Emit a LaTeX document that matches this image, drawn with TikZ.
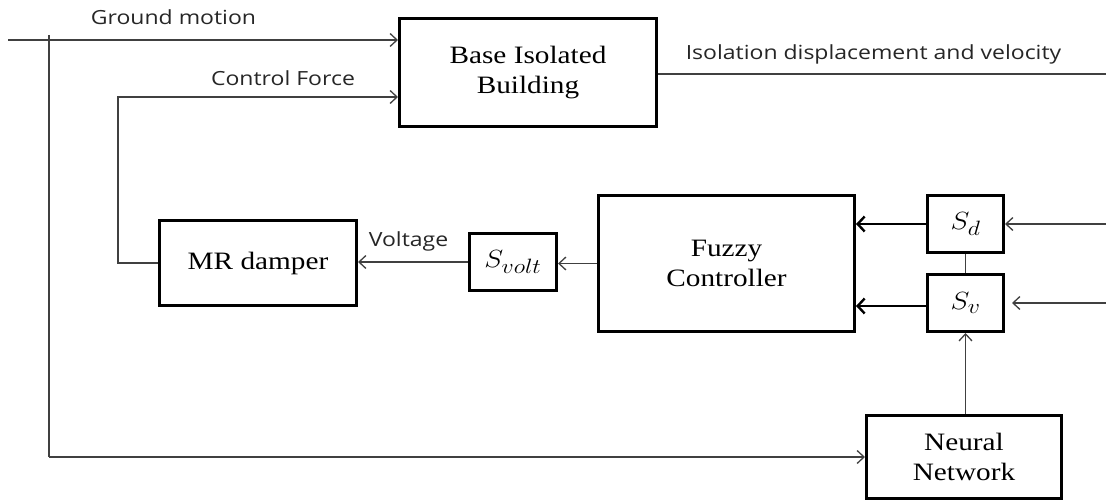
\documentclass[tikz,border=0pt]{standalone}
\usepackage{fontspec}
\setmainfont{Liberation Serif}
\newfontfamily\boxfont[FakeStretch=1.17]{Liberation Serif}
\newfontfamily\lblfont[FakeStretch=1.18]{Open Sans}
\usetikzlibrary{arrows.meta}
\newcommand{\wmath}[1]{\scalebox{1.15}[1]{$#1$}}
\tikzset{
  blk/.style={draw=black, line width=3pt, inner sep=0pt, align=center, font=\boxfont\fontsize{25}{30}\selectfont},
  mblk/.style={blk, font=\fontsize{28}{30}\selectfont},
  conn/.style={draw=black!75, line width=1.3pt},
  arr/.style={conn, -{Straight Barb[length=7pt,width=13pt,line width=1.3pt]}},
  tarr/.style={draw=black, line width=2.4pt, -{Straight Barb[length=7pt,width=15pt,line width=2.4pt]}},
  lbl/.style={font=\lblfont\fontsize{19.5}{22}\selectfont, text=black!85, inner sep=0pt}
}
\begin{document}
\begin{tikzpicture}[x=1pt,y=-1pt]
\useasboundingbox (0,0) rectangle (1106,502);
% blocks
\node[blk, minimum width=257pt, minimum height=108pt] (base) at (528,72.5) {Base Isolated\\Building};
\node[blk, minimum width=197pt, minimum height=85pt] (mr) at (258,263) {MR damper};
\node[mblk, minimum width=87pt, minimum height=57pt] (sv0) at (513,262) {\wmath{S_{volt}}};
\node[blk, minimum width=256pt, minimum height=136pt] (fz) at (726.5,263.5) {Fuzzy\\Controller};
\node[mblk, minimum width=76pt, minimum height=57pt] (sd) at (965.5,224) {\wmath{S_d}};
\node[mblk, minimum width=76pt, minimum height=57pt] (sv) at (965.5,303) {\wmath{S_v}};
\node[blk, minimum width=195pt, minimum height=83pt] (nn) at (964,457) {Neural\\Network};
% free ends
\coordinate (gm0) at (8,40);
\coordinate (gv0) at (49,35);
\coordinate (cf0) at (118,97);
\coordinate (out1) at (1106,74);
\coordinate (ind) at (1106,224);
\coordinate (inv) at (1106,303);
% connectors
\draw[arr] (gm0) -- (gm0 -| base.west);
\draw[conn] (gv0) -- (gv0 |- nn.west);
\draw[arr] (gv0 |- nn.west) -- (nn.west);
\draw[arr] (mr.west) -| (cf0) -- (cf0 -| base.west);
\draw[conn] (out1 -| base.east) -- (out1);
\draw[arr] (fz.west) -- (fz.west -| sv0.east);
\draw[arr] (sv0.west) -- (sv0.west -| mr.east);
\draw[tarr] (sd.west) -- (sd.west -| fz.east);
\draw[tarr] ([yshift=-3pt]sv.west) -- ([yshift=-3pt]sv.west -| fz.east);
\draw[arr] (ind) -- (sd.east);
\draw[arr, shorten >=7pt] (inv) -- (sv.east);
\draw[conn] (sd.south) -- (sv.north);
\draw[arr] (sv.south |- nn.north) -- (sv.south);
% labels
\node[lbl] (l1) at (173.5,17) {Ground motion};
\node[lbl] (l2) at (283,78) {Control Force};
\node[lbl] (l3) at (873.5,54) {Isolation displacement and velocity};
\node[lbl] (l4) at (408.5,241) {Voltage};
\end{tikzpicture}
\end{document}
